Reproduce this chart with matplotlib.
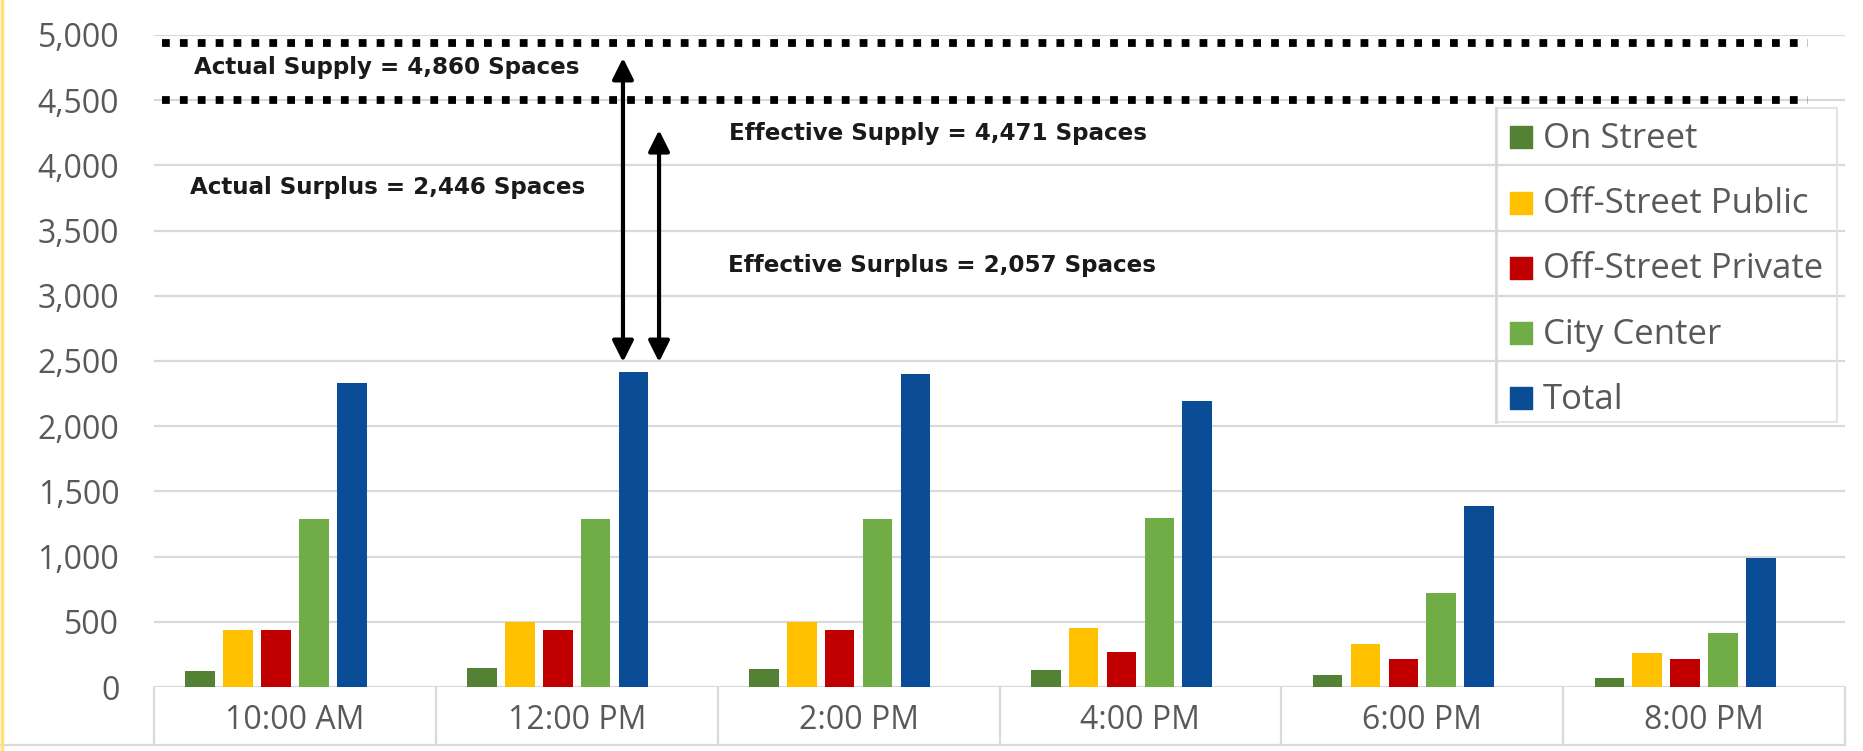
import numpy as np
import matplotlib
matplotlib.use("Agg")
import matplotlib.pyplot as plt
from matplotlib.patches import Rectangle
from matplotlib.lines import Line2D

# data
times = ["10:00 AM", "12:00 PM", "2:00 PM", "4:00 PM", "6:00 PM", "8:00 PM"]
series_names = ["On Street", "Off-Street Public", "Off-Street Private", "City Center", "Total"]
on_street = [120, 146, 141, 128, 90, 67]
off_street_public = [439, 500, 498, 452, 326, 259]
off_street_private = [439, 439, 439, 270, 218, 216]
city_center = [1289, 1289, 1289, 1299, 719, 413]
total = [2330, 2414, 2400, 2190, 1390, 990]
colors = ["#548235", "#FFC000", "#C00000", "#70AD47", "#0A4C95"]

# supply lines (drawn positions) and annotation arrows (x in category units)
supply_lines = [4940, 4500]
arrows = [(1.164, 2492, 4824), (1.292, 2492, 4271)]
notes = [
    ("Actual Supply = 4,860 Spaces", -0.358, 4747),
    ("Actual Surplus = 2,446 Spaces", -0.372, 3827),
    ("Effective Supply = 4,471 Spaces", 1.540, 4248),
    ("Effective Surplus = 2,057 Spaces", 1.537, 3236),
]

W, H = 1863, 751
fig = plt.figure(figsize=(W / 100, H / 100), dpi=100)
ax_left, ax_right, ax_bot, ax_top = 154, 1845, 687, 35
ax = fig.add_axes([ax_left / W, (H - ax_bot) / H, (ax_right - ax_left) / W, (ax_bot - ax_top) / H])

tick_font = "Open Sans"
grey = "#595959"
grid_c = "#D9D9D9"

x = np.arange(len(times))
step = 0.1344
width = 0.105
all_vals = [on_street, off_street_public, off_street_private, city_center, total]
for i, (vals, c) in enumerate(zip(all_vals, colors)):
    ax.bar(x + (i - 2.5) * step, vals, width, color=c, zorder=2)

ax.set_xlim(-0.5, len(times) - 0.5)
ax.set_ylim(0, 5000)
ax.set_yticks(np.arange(0, 5001, 500))
ax.set_yticklabels([f"{v:,}" for v in range(0, 5001, 500)], fontsize=23,
                   family=tick_font, color=grey)
ax.set_xticks(x)
ax.set_xticklabels(times, fontsize=23, family=tick_font, color=grey)
ax.tick_params(axis="y", length=0, pad=25)
ax.tick_params(axis="x", length=0, pad=12)
ax.yaxis.grid(True, color=grid_c, lw=1.6)
ax.set_axisbelow(True)
for s in ax.spines.values():
    s.set_visible(False)

# category box under the axis
box_depth = 0.089
ax.vlines(np.arange(-0.5, len(times)), -box_depth, 0, transform=ax.get_xaxis_transform(),
          color=grid_c, lw=1.6, clip_on=False)
fig.add_artist(Line2D([0, ax_right / W], [(H - 745) / H] * 2, color=grid_c, lw=1.6))

# yellow left border
fig.add_artist(Line2D([1.5 / W, 1.5 / W], [0, 1], color="#FFE07A", lw=2.5))

# dotted supply lines
for yv in supply_lines:
    ax.axhline(yv, xmin=0.005, xmax=0.978, color="black", lw=5.6,
               linestyle=(0, (1.0, 1.3)), dash_capstyle="butt", zorder=3)

# arrows
for ax_x, y0, y1 in arrows:
    ax.annotate("", xy=(ax_x, y1), xytext=(ax_x, y0),
                arrowprops=dict(arrowstyle="<|-|>", color="black", lw=3,
                                mutation_scale=32, shrinkA=0, shrinkB=0), zorder=4)

for txt, tx, ty in notes:
    ax.text(tx, ty, txt, fontsize=16.6, family="DejaVu Sans", fontweight="bold",
            color="#1A1A1A", ha="left", va="center", zorder=4)

# legend drawn as a small table on the right
def ax_x(px):
    return (px - ax_left) / (ax_right - ax_left)

def ax_y(py):
    return (ax_bot - py) / (ax_bot - ax_top)

ax.add_patch(Rectangle((ax_x(1496), ax_y(422)), ax_x(1837) - ax_x(1496), ax_y(108) - ax_y(422),
                       transform=ax.transAxes, facecolor="none", edgecolor="#E3E3E3",
                       lw=1.5, zorder=1, clip_on=False))
ax.plot([ax_x(1496)] * 2, [ax_y(108), ax_y(422)], transform=ax.transAxes,
        color="#D6D6D6", lw=1.8, zorder=1, clip_on=False)
for i, (name, c) in enumerate(zip(series_names, colors)):
    ax.scatter([ax_x(1521)], [4214 - 500 * i], marker="s", s=250, color=c,
               transform=ax.get_yaxis_transform(), zorder=3, clip_on=False)
    ax.text(ax_x(1543), 4133 - 500 * i, name, fontsize=25, family=tick_font, color=grey,
            ha="left", va="baseline", transform=ax.get_yaxis_transform())

fig.savefig("out.png", dpi=100)
